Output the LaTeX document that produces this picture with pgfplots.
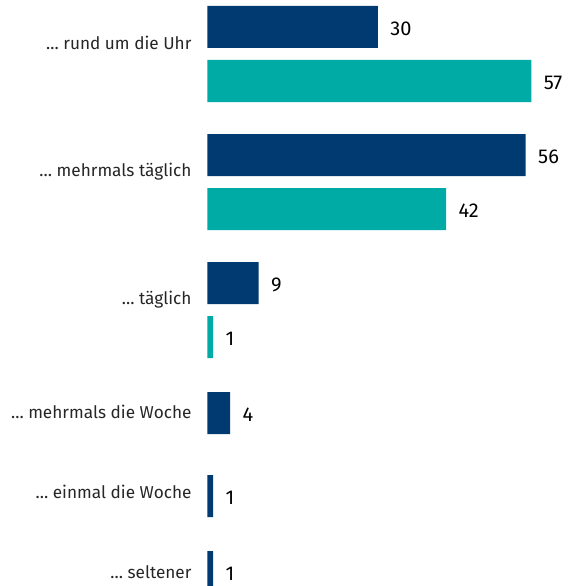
\documentclass[border=0pt]{standalone}
\usepackage{pgfplots}
\pgfplotsset{compat=1.18}
\usepackage{fontspec}
\setmainfont{Fira Sans}
\definecolor{navy}{HTML}{003A70}
\definecolor{tealc}{HTML}{00ABA6}
\definecolor{lab}{HTML}{262626}
\begin{document}
\begin{tikzpicture}
\begin{axis}[
  scale only axis, width=566pt, height=586pt,
  xmin=-35.74, xmax=63.84, ymin=0, ymax=586, y dir=reverse,
  axis line style={draw=none}, tick style={draw=none},
  xtick=\empty,
  ytick={43,172,300,412,492,572},
  yticklabels={… rund um die Uhr,… mehrmals täglich,… täglich,… mehrmals die Woche,… einmal die Woche,… seltener},
  yticklabel style={anchor=east, xshift=195pt, text=lab, font=\fontsize{17.2}{20}\selectfont},
  xbar, bar width=42, bar shift=0pt,
  /pgf/number format/assume math mode=true,
  nodes near coords,
  nodes near coords style={anchor=west, xshift=9pt, yshift=-2pt, text=black, font=\fontsize{20}{23}\selectfont},
]
\addplot[fill=navy, draw=none] coordinates {(30,27) (56,155) (9,283) (4,413) (1,496) (1,572)};
\addplot[fill=tealc, draw=none] coordinates {(57,81) (42,209) (1,337)};
\end{axis}
\end{tikzpicture}
\end{document}
